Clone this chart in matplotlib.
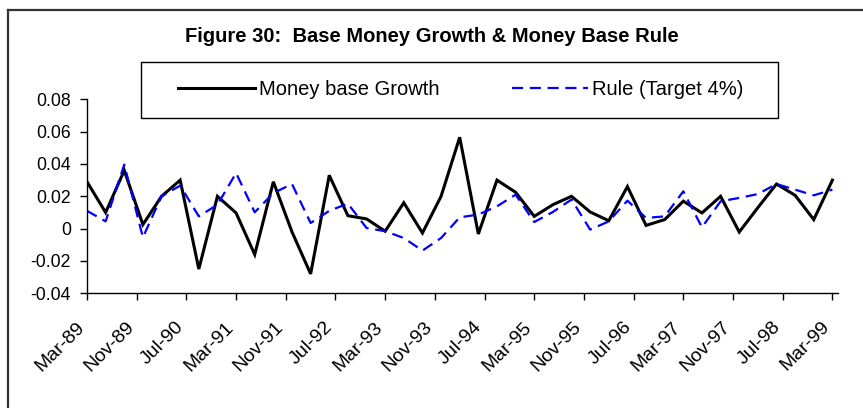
import matplotlib
matplotlib.use("Agg")
import matplotlib.pyplot as plt
from matplotlib.patches import Rectangle
from matplotlib.lines import Line2D
from matplotlib.transforms import ScaledTranslation

plt.rcParams["font.family"] = ["Liberation Sans", "DejaVu Sans"]

# quarterly observations Mar-89 .. Mar-99 (41 quarters)
money_base_growth = [
    0.029, 0.010, 0.036, 0.0025, 0.020, 0.030, -0.025, 0.020, 0.0097, -0.016,
    0.029, -0.002, -0.028, 0.033, 0.008, 0.006, -0.0016, 0.016, -0.0027, 0.020,
    0.0565, -0.0033, 0.030, 0.0225, 0.0076, 0.0148, 0.020, 0.0103, 0.0049, 0.026,
    0.002, 0.0056, 0.017, 0.0097, 0.020, -0.0021, 0.013, 0.0276, 0.0206, 0.0056,
    0.030,
]
rule_target = [
    0.011, 0.0045, 0.0396, -0.0054, 0.020, 0.0266, 0.0076, 0.0148, 0.0344, 0.0101,
    0.022, 0.0276, 0.0035, 0.011, 0.0155, 0.0004, -0.0016, -0.0058, -0.0136, -0.0058,
    0.007, 0.0087, 0.0138, 0.021, 0.0041, 0.0103, 0.018, -0.0006, 0.0045, 0.0173,
    0.0066, 0.0076, 0.0231, 0.0008, 0.0169, 0.019, 0.0214, 0.0276, 0.0241, 0.0206,
    0.0241,
]
months = [3 * i for i in range(len(money_base_growth))]  # months since Mar-89

tick_labels = ["Mar-89", "Nov-89", "Jul-90", "Mar-91", "Nov-91", "Jul-92", "Mar-93", "Nov-93",
               "Jul-94", "Mar-95", "Nov-95", "Jul-96", "Mar-97", "Nov-97", "Jul-98", "Mar-99"]
tick_months = [8 * i for i in range(len(tick_labels))]
y_ticks = [-0.04, -0.02, 0, 0.02, 0.04, 0.06, 0.08]
y_tick_labels = ["-0.04", "-0.02", "0", "0.02", "0.04", "0.06", "0.08"]

W, H = 863, 408
fig = plt.figure(figsize=(W / 100, H / 100), dpi=100)
ax = fig.add_axes([87 / W, 1 - 293.3 / H, (838 - 87) / W, (293.3 - 99.3) / H])

ax.plot(months, money_base_growth, color="black", lw=2.2, label="Money base Growth",
        solid_joinstyle="miter")
ax.plot(months, rule_target, color="#0000ff", lw=1.6, dashes=(5, 3),
        label="Rule (Target 4%)")

ax.set_xlim(0, 120.9)
ax.set_ylim(-0.04, 0.08)
ax.set_yticks(y_ticks)
ax.set_yticklabels(y_tick_labels)
ax.set_xticks(tick_months)
ax.set_xticklabels(tick_labels, rotation=45, ha="right", va="center", rotation_mode="anchor")

for side in ["top", "right"]:
    ax.spines[side].set_visible(False)
for side in ["left", "bottom"]:
    ax.spines[side].set_linewidth(1.0)
ax.tick_params(axis="both", direction="out", length=5, width=1, color="black")
ax.tick_params(axis="y", pad=6.5, labelsize=12.7)
ax.tick_params(axis="x", pad=17.5, labelsize=14)

# nudge rotated date labels a little to the left, like the original
shift = ScaledTranslation(-5 / 100, 0, fig.dpi_scale_trans)
for lbl in ax.get_xticklabels():
    lbl.set_transform(lbl.get_transform() + shift)

# title
fig.text(432 / W, 1 - 36 / H, "Figure 30:  Base Money Growth & Money Base Rule",
         ha="center", va="center", fontsize=14.5, fontweight="bold")

# legend box
box = Rectangle((141 / W, 1 - 118.3 / H), (777.7 - 141) / W, (118.3 - 61.7) / H,
                transform=fig.transFigure, facecolor="white", edgecolor="black", lw=1.0, zorder=3)
fig.patches.append(box)
handles, labels = ax.get_legend_handles_labels()
fig.legend(handles, labels, loc="center", bbox_to_anchor=(461 / W, 1 - 89.5 / H), ncol=2,
           frameon=False, fontsize=14.5, handlelength=3.8, handletextpad=0.2,
           columnspacing=3.6, borderpad=0)

# outer chart border (top and left edges visible)
fig.add_artist(Line2D([8 / W, 1], [1 - 10 / H, 1 - 10 / H], transform=fig.transFigure,
                      color="#333333", lw=1.6))
fig.add_artist(Line2D([8 / W, 8 / W], [0, 1 - 10 / H], transform=fig.transFigure,
                      color="#333333", lw=1.6))

fig.savefig("out.png", dpi=100)
